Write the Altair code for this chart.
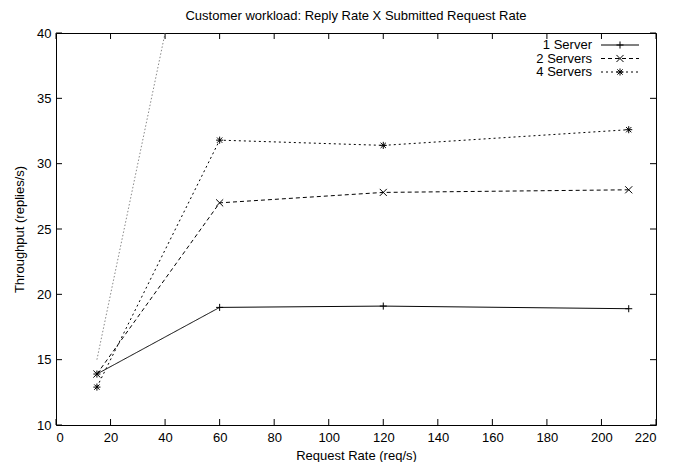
import altair as alt
import pandas as pd

# ---- data ----
x_rate = [15, 60, 120, 210]
one_server = [13.9, 19.0, 19.1, 18.9]
two_servers = [13.9, 27.0, 27.8, 28.0]
four_servers = [12.9, 31.8, 31.4, 32.6]
series_names = ["1 Server", "2 Servers", "4 Servers"]
ideal_x = [15, 60]
ideal_y = [15, 60]
x_ticks = list(range(0, 221, 20))
y_ticks = [10, 15, 20, 25, 30, 35, 40]

FONT = "Liberation Sans"
W, H = 600, 392

PLUS = "M-1,0L1,0M0,-1L0,1"
CROSS = "M-1,-1L1,1M-1,1L1,-1"
STAR = "M-1,0L1,0M0,-1L0,1M-0.75,-0.75L0.75,0.75M-0.75,0.75L0.75,-0.75"

styles = {
    "1 Server": dict(dash=[1, 0], shape=PLUS),
    "2 Servers": dict(dash=[4, 3], shape=CROSS),
    "4 Servers": dict(dash=[2, 3], shape=STAR),
}

xs = alt.Scale(domain=[0, 220], nice=False)
ys = alt.Scale(domain=[10, 40], nice=False)

x_enc = alt.X("x:Q", scale=xs, axis=alt.Axis(values=x_ticks, title="Request Rate (req/s)"))
y_enc = alt.Y("y:Q", scale=ys, axis=alt.Axis(values=y_ticks, title="Throughput (replies/s)"))

layers = []

# ideal line
ideal_df = pd.DataFrame({"x": ideal_x, "y": ideal_y})
layers.append(
    alt.Chart(ideal_df).mark_line(color="#888888", strokeDash=[1.5, 2], strokeWidth=1, clip=True)
    .encode(x=x_enc, y=y_enc)
)

legend_rows = [12, 25.5, 39]
for i, (name, vals) in enumerate(zip(series_names, [one_server, two_servers, four_servers])):
    df = pd.DataFrame({"x": x_rate, "y": vals, "s": name})
    st = styles[name]
    layers.append(
        alt.Chart(df).mark_line(color="black", strokeWidth=1, strokeDash=st["dash"], clip=True)
        .encode(x=x_enc, y=y_enc)
    )
    layers.append(
        alt.Chart(df).mark_point(shape=st["shape"], size=50, filled=False, color="black",
                                 strokeWidth=1, opacity=1, clip=True)
        .encode(x=x_enc, y=y_enc)
    )
    # legend entry
    ldf = pd.DataFrame({"s": [name]})
    yy = legend_rows[i]
    layers.append(
        alt.Chart(ldf).mark_text(align="right", baseline="middle", font=FONT, fontSize=13, color="black")
        .encode(text="s:N", x=alt.value(536), y=alt.value(yy))
    )
    layers.append(
        alt.Chart(ldf).mark_rule(color="black", strokeWidth=1, strokeDash=st["dash"])
        .encode(x=alt.value(545), x2=alt.value(583), y=alt.value(yy))
    )
    layers.append(
        alt.Chart(ldf).mark_point(shape=st["shape"], size=50, filled=False, color="black",
                                  strokeWidth=1, opacity=1)
        .encode(x=alt.value(564), y=alt.value(yy))
    )

# inward ticks on all four sides
xt = pd.DataFrame({"x": x_ticks})
yt = pd.DataFrame({"y": y_ticks})
xt_enc = alt.X("x:Q", scale=xs)
yt_enc = alt.Y("y:Q", scale=ys)
layers.append(alt.Chart(xt).mark_rule(color="black", strokeWidth=1)
              .encode(x=xt_enc, y=alt.value(H), y2=alt.value(H - 6)))
layers.append(alt.Chart(xt).mark_rule(color="black", strokeWidth=1)
              .encode(x=xt_enc, y=alt.value(0), y2=alt.value(6)))
layers.append(alt.Chart(yt).mark_rule(color="black", strokeWidth=1)
              .encode(y=yt_enc, x=alt.value(0), x2=alt.value(6)))
layers.append(alt.Chart(yt).mark_rule(color="black", strokeWidth=1)
              .encode(y=yt_enc, x=alt.value(W), x2=alt.value(W - 6)))

chart = (
    alt.layer(*layers)
    .properties(
        width=W, height=H,
        padding={"left": 5, "top": 2, "right": 5, "bottom": 0},
        title=alt.TitleParams("Customer workload: Reply Rate X Submitted Request Rate",
                              font=FONT, fontSize=13, fontWeight="normal", color="black",
                              anchor="middle", offset=4),
    )
    .configure_view(stroke="black", strokeWidth=1)
    .configure_axis(
        grid=False, domain=False, ticks=False,
        labelFont=FONT, labelFontSize=13, labelColor="black",
        titleFont=FONT, titleFontSize=13, titleColor="black", titleFontWeight="normal",
    )
    .configure_axisX(labelPadding=6, titlePadding=5)
    .configure_axisY(labelPadding=5, titlePadding=10)
)

chart.save("out.html", embed_options={"renderer": "svg", "actions": False})
